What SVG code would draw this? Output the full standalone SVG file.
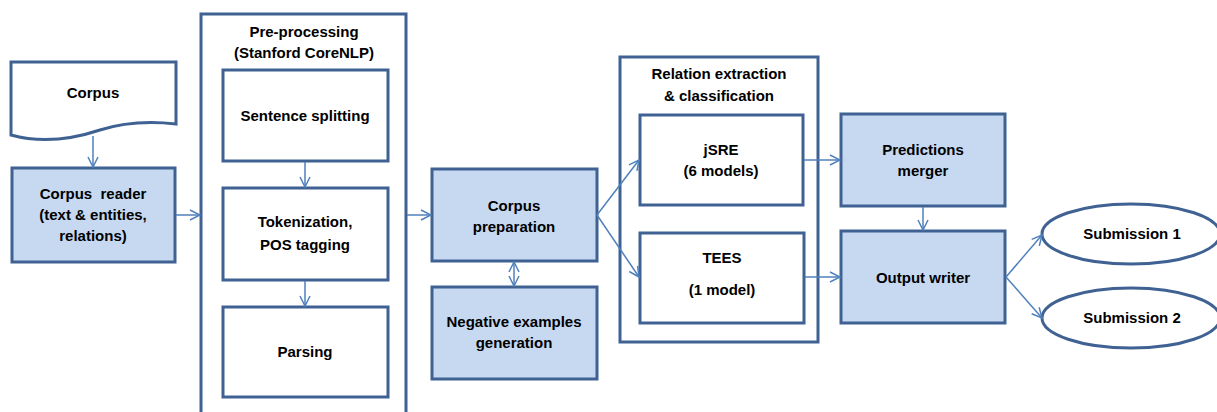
<svg xmlns="http://www.w3.org/2000/svg" width="1217" height="412" viewBox="0 0 1217 412">
<style>
.box{fill:#ffffff;stroke:#3F6293;stroke-width:3}
.fill{fill:#C6D9F1;stroke:#3F6293;stroke-width:3}
.cont{fill:none;stroke:#3F6293;stroke-width:3}
.conn{fill:none;stroke:#4F81BD;stroke-width:1.5}
text{font-family:"Liberation Sans",Arial,sans-serif;font-weight:bold;font-size:15px;fill:#000;text-anchor:middle}
</style>
<defs>
<marker id="arr" viewBox="0 0 12 12" refX="11" refY="6" markerWidth="12" markerHeight="12" markerUnits="userSpaceOnUse" orient="auto-start-reverse">
<path d="M1,1 L11,6 L1,11" fill="none" stroke="#4F81BD" stroke-width="1.5"/>
</marker>
</defs>
<rect width="1217" height="412" fill="#ffffff"/>

<g id="preprocessing">
<path class="cont" d="M201,420 V14 H406 V420"/>
<text x="304" y="37">Pre-processing</text>
<text x="304" y="58">(Stanford CoreNLP)</text>
</g>
<g id="relation-extraction">
<rect class="cont" x="620" y="57" width="198" height="285"/>
<text x="719" y="79">Relation extraction</text>
<text x="719" y="101">&amp; classification</text>
</g>

<g id="corpus">
<path class="box" d="M11,62 H176 V124 C150,121 125,122 100,130 C70,140 40,143 11,135 Z"/>
<text x="93" y="98">Corpus</text>
</g>
<g id="corpus-reader">
<rect class="fill" x="12" y="168" width="163" height="94"/>
<text x="93" y="199" xml:space="preserve">Corpus  reader</text>
<text x="93" y="220">(text &amp; entities,</text>
<text x="93" y="241">relations)</text>
</g>
<g id="sentence-splitting">
<rect class="box" x="223" y="70" width="165" height="91"/>
<text x="305" y="121">Sentence splitting</text>
</g>
<g id="tokenization">
<rect class="box" x="223" y="188" width="165" height="92"/>
<text x="305" y="227">Tokenization,</text>
<text x="305" y="250">POS tagging</text>
</g>
<g id="parsing">
<rect class="box" x="223" y="307" width="165" height="90"/>
<text x="305" y="357">Parsing</text>
</g>
<g id="corpus-preparation">
<rect class="fill" x="432" y="169" width="165" height="92"/>
<text x="514" y="211">Corpus</text>
<text x="514" y="232">preparation</text>
</g>
<g id="negative-examples">
<rect class="fill" x="432" y="287" width="165" height="92"/>
<text x="514" y="327">Negative examples</text>
<text x="514" y="348">generation</text>
</g>
<g id="jsre">
<rect class="box" x="640" y="115" width="163" height="90"/>
<text x="721" y="155">jSRE</text>
<text x="721" y="176">(6 models)</text>
</g>
<g id="tees">
<rect class="box" x="640" y="233" width="164" height="90"/>
<text x="722" y="263">TEES</text>
<text x="722" y="295">(1 model)</text>
</g>
<g id="predictions-merger">
<rect class="fill" x="841" y="114" width="164" height="92"/>
<text x="923" y="155">Predictions</text>
<text x="923" y="176">merger</text>
</g>
<g id="output-writer">
<rect class="fill" x="841" y="231" width="164" height="92"/>
<text x="923" y="283">Output writer</text>
</g>
<g id="submission-1">
<ellipse class="box" cx="1131" cy="234" rx="89" ry="30"/>
<text x="1132" y="239">Submission 1</text>
</g>
<g id="submission-2">
<ellipse class="box" cx="1131" cy="318" rx="89" ry="30"/>
<text x="1132" y="323">Submission 2</text>
</g>

<g id="connectors">
<line class="conn" x1="93" y1="136" x2="93" y2="167" marker-end="url(#arr)"/>
<line class="conn" x1="176" y1="215" x2="200" y2="215" marker-end="url(#arr)"/>
<line class="conn" x1="305" y1="162" x2="305" y2="187" marker-end="url(#arr)"/>
<line class="conn" x1="305" y1="281" x2="305" y2="306" marker-end="url(#arr)"/>
<line class="conn" x1="407" y1="215" x2="431" y2="215" marker-end="url(#arr)"/>
<line class="conn" x1="514" y1="262" x2="514" y2="286" marker-start="url(#arr)" marker-end="url(#arr)"/>
<line class="conn" x1="597" y1="215" x2="639" y2="160" marker-end="url(#arr)"/>
<line class="conn" x1="597" y1="215" x2="639" y2="277" marker-end="url(#arr)"/>
<line class="conn" x1="804" y1="160" x2="840" y2="160" marker-end="url(#arr)"/>
<line class="conn" x1="805" y1="277" x2="840" y2="277" marker-end="url(#arr)"/>
<line class="conn" x1="923" y1="207" x2="923" y2="230" marker-end="url(#arr)"/>
<line class="conn" x1="1006" y1="277" x2="1042" y2="235" marker-end="url(#arr)"/>
<line class="conn" x1="1006" y1="277" x2="1042" y2="318" marker-end="url(#arr)"/>
</g>
</svg>
